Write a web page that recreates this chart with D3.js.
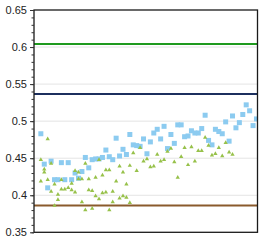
<!DOCTYPE html>
<html>
<head>
<meta charset="utf-8">
<script src="https://cdn.jsdelivr.net/npm/d3@7"></script>
<style>
  html, body { margin: 0; padding: 0; background: #fff; }
  text { font-family: "Liberation Sans", Arial, sans-serif; }
</style>
</head>
<body>
<script>
var width = 263,
    height = 245;

var margin = {top: 10, right: 5.5, bottom: 12.7, left: 34};

// blue squares, one per index starting at index 2
var blueStart = 2;
var blueValues = [
  0.483, 0.442, 0.410, 0.446, 0.421, 0.421, 0.444, 0.421, 0.444, 0.421,
  0.430, 0.423, 0.432, 0.451, 0.437, 0.448, 0.449, 0.449, 0.451, 0.461,
  0.452, 0.448, 0.477, 0.453, 0.462, 0.455, 0.482, 0.468, 0.467, 0.466,
  0.476, 0.456, 0.472, 0.484, 0.489, 0.476, 0.493, 0.463, 0.482, 0.470,
  0.495, 0.495, 0.479, 0.480, 0.487, 0.484, 0.484, 0.490, 0.508, 0.474,
  0.468, 0.489, 0.486, 0.483, 0.499, 0.473, 0.507, 0.491, 0.498, 0.509,
  0.522, 0.514, 0.494, 0.503
];

// green triangles: index and value
var greenIndex = [
  2, 2, 3, 3, 4, 4, 5, 5, 6, 6, 7, 7, 8, 8, 9, 10, 11, 11, 12, 12,
  13, 13, 14, 14, 15, 15, 16, 16, 17, 17, 18, 18, 19, 19, 20, 20, 21, 21, 22, 22,
  23, 23, 24, 25, 25, 26, 26, 27, 27, 28, 28, 29, 30, 31, 32, 33, 34, 35, 36, 37,
  38, 39, 40, 41, 42, 43, 44, 45, 46, 47, 48, 49, 50, 51, 52, 53, 54, 55, 56, 57, 58
];
var greenValues = [
  0.448, 0.419, 0.435, 0.431, 0.476, 0.421, 0.443, 0.405, 0.415, 0.386, 0.401, 0.394, 0.421, 0.408, 0.408, 0.410, 0.407, 0.416, 0.404, 0.433,
  0.431, 0.422, 0.422, 0.391, 0.443, 0.380, 0.422, 0.407, 0.406, 0.382, 0.424, 0.399, 0.395, 0.448, 0.427, 0.403, 0.434, 0.404, 0.434, 0.380,
  0.405, 0.391, 0.419, 0.439, 0.396, 0.431, 0.399, 0.415, 0.397, 0.440, 0.390, 0.457, 0.433, 0.464, 0.446, 0.449, 0.438, 0.439, 0.455, 0.446,
  0.448, 0.459, 0.463, 0.445, 0.424, 0.452, 0.464, 0.441, 0.465, 0.446, 0.460, 0.460, 0.478, 0.467, 0.454, 0.456, 0.464, 0.453, 0.471, 0.458, 0.455
];

// reference lines
var refValues = [0.604, 0.5365, 0.386];
var refColors = ["#1e9a1e", "#1c2f5e", "#8a5a2c"];

var yTicks = [0.35, 0.4, 0.45, 0.5, 0.55, 0.6, 0.65];
var yTickLabels = ["0.35", "0.4", "0.45", "0.5", "0.55", "0.6", "0.65"];
var yMinorTicks = d3.range(35, 66).map(function(d){ return d / 100; });

var svg = d3.select("body").append("svg")
    .attr("width", width)
    .attr("height", height);

var innerW = width - margin.left - margin.right,
    innerH = height - margin.top - margin.bottom;

var x = d3.scaleLinear().domain([0, 65.3]).range([margin.left, margin.left + innerW]);
var y = d3.scaleLinear().domain([0.35, 0.65]).range([margin.top + innerH, margin.top]);

svg.append("clipPath").attr("id", "plot")
  .append("rect")
    .attr("x", margin.left).attr("y", margin.top)
    .attr("width", innerW).attr("height", innerH);

// gridlines
svg.append("g")
  .selectAll("line")
  .data(yTicks.slice(1, -1))
  .join("line")
    .attr("x1", margin.left).attr("x2", margin.left + innerW)
    .attr("y1", function(d){ return y(d); })
    .attr("y2", function(d){ return y(d); })
    .attr("stroke", "#e4e4e4")
    .attr("stroke-width", 1);

// reference lines
svg.append("g")
  .selectAll("line")
  .data(refValues)
  .join("line")
    .attr("x1", margin.left).attr("x2", margin.left + innerW)
    .attr("y1", function(d){ return y(d); })
    .attr("y2", function(d){ return y(d); })
    .attr("stroke", function(d, i){ return refColors[i]; })
    .attr("stroke-width", 2);

var marks = svg.append("g").attr("clip-path", "url(#plot)");

marks.selectAll(".sq")
  .data(blueValues)
  .join("rect")
    .attr("class", "sq")
    .attr("x", function(d, i){ return x(i + blueStart) - 2.5; })
    .attr("y", function(d){ return y(d) - 2.5; })
    .attr("width", 5).attr("height", 5)
    .attr("fill", "#8ccbf0");

var tri = d3.symbol().type(d3.symbolTriangle).size(8);
marks.selectAll(".tri")
  .data(greenValues)
  .join("path")
    .attr("class", "tri")
    .attr("d", tri)
    .attr("transform", function(d, i){ return "translate(" + x(greenIndex[i]) + "," + y(d) + ")"; })
    .attr("fill", "#97c14a");

// frame
svg.append("rect")
    .attr("x", margin.left).attr("y", margin.top)
    .attr("width", innerW).attr("height", innerH)
    .attr("fill", "none")
    .attr("stroke", "#1a1a1a")
    .attr("stroke-width", 1.3);

// y axis: minor ticks then major ticks with labels
svg.append("g")
    .attr("transform", "translate(" + margin.left + ",0)")
    .call(d3.axisLeft(y).tickValues(yMinorTicks).tickSize(2.5).tickFormat(""))
    .call(function(g){ g.select(".domain").remove(); g.selectAll("line").attr("stroke", "#333"); });

var axis = svg.append("g")
    .attr("transform", "translate(" + margin.left + ",0)")
    .call(d3.axisLeft(y).tickValues(yTicks).tickSize(4).tickPadding(3)
      .tickFormat(function(d, i){ return yTickLabels[i]; }));
axis.select(".domain").remove();
axis.selectAll("line").attr("stroke", "#333");
axis.selectAll("text")
    .attr("font-size", 11)
    .attr("fill", "#222")
    .style("font-family", "'Liberation Sans', Arial, sans-serif");
</script>
</body>
</html>
